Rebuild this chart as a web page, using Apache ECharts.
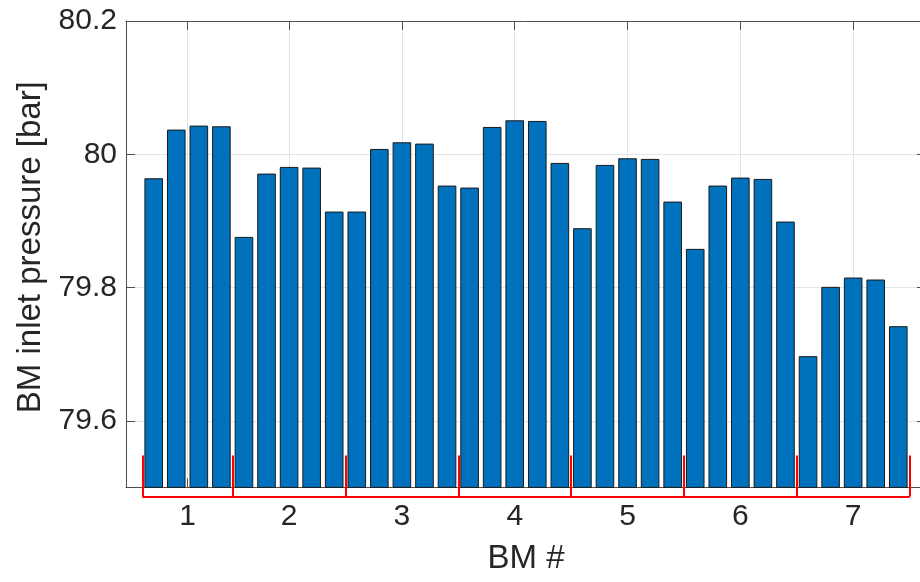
<!DOCTYPE html>
<html>
<head>
<meta charset="utf-8">
<script src="https://cdn.jsdelivr.net/npm/echarts@6/dist/echarts.min.js"></script>
<style>
html,body{margin:0;padding:0;background:#fff;}
#chart{width:920px;height:582px;}
</style>
</head>
<body>
<div id="chart"></div>
<script>
// ---- data ----
var groupLabels = ['1', '2', '3', '4', '5', '6', '7'];
var groupSizes = [4, 5, 5, 5, 5, 5, 5];
var pressures = [
  79.964, 80.037, 80.043, 80.042,
  79.876, 79.971, 79.981, 79.980, 79.914,
  79.914, 80.008, 80.018, 80.016, 79.953,
  79.950, 80.041, 80.051, 80.050, 79.987,
  79.889, 79.984, 79.994, 79.993, 79.929,
  79.858, 79.953, 79.965, 79.963, 79.899,
  79.697, 79.801, 79.815, 79.812, 79.742
];
var yTicks = [79.6, 79.8, 80, 80.2];
var yTitle = 'BM inlet pressure [bar]';
var xTitle = 'BM #';

// ---- derived ----
var barData = pressures.map(function (v, i) { return [i + 1, v]; });
var groupCenters = [];
var boundaries = [0.5];
var start = 1;
groupSizes.forEach(function (n) {
  groupCenters.push(start + (n - 1) / 2);
  start += n;
  boundaries.push(start - 0.5);
});
var nBars = pressures.length;
var xMin = (nBars + 1) / 2 - 17.728;
var xMax = (nBars + 1) / 2 + 17.728;

var bracketTop = 79.548, bracketBottom = 79.486;
var bracketLines = [];
boundaries.forEach(function (b) {
  bracketLines.push({ coords: [[b, bracketTop], [b, bracketBottom]] });
});
bracketLines.push({ coords: [[boundaries[0], bracketBottom], [boundaries[boundaries.length - 1], bracketBottom]] });

var FONT = '"Liberation Sans", Arial, Helvetica, sans-serif';
var TXT = '#262626';
var AX = '#4d4d4d';
var GRIDC = '#e3e3e3';

function xLabel(v) {
  for (var k = 0; k < groupCenters.length; k++) {
    if (Math.abs(groupCenters[k] - v) < 1e-6) return groupLabels[k];
  }
  return '';
}

var chart = echarts.init(document.getElementById('chart'), null, { renderer: 'canvas' });
chart.setOption({
  animation: false,
  backgroundColor: '#ffffff',
  grid: { left: 126, right: -6, top: 21, bottom: 94.6, containLabel: false, outerBoundsMode: 'none' },
  xAxis: [{
    type: 'value', min: xMin, max: xMax, position: 'bottom',
    name: xTitle, nameLocation: 'middle', nameGap: 55,
    nameTextStyle: { fontFamily: FONT, fontSize: 33, color: TXT },
    axisLine: { show: true, onZero: false, lineStyle: { color: AX, width: 1 } },
    axisTick: { show: true, inside: true, length: 9, customValues: groupCenters, lineStyle: { color: AX } },
    axisLabel: { show: true, customValues: groupCenters, formatter: xLabel, margin: 14,
      fontFamily: FONT, fontSize: 30, color: TXT },
    splitLine: { show: true, lineStyle: { color: GRIDC, width: 1 } }
  }, {
    type: 'value', min: xMin, max: xMax, position: 'top',
    axisLine: { show: true, onZero: false, lineStyle: { color: AX, width: 1 } },
    axisTick: { show: true, inside: true, length: 9, customValues: groupCenters, lineStyle: { color: AX } },
    axisLabel: { show: false },
    splitLine: { show: false }
  }],
  yAxis: [{
    type: 'value', min: 79.5, max: 80.2, position: 'left',
    name: yTitle, nameLocation: 'middle', nameRotate: 90, nameGap: 78,
    nameTextStyle: { fontFamily: FONT, fontSize: 33, color: TXT, padding: [0, 0, 0, 14] },
    axisLine: { show: true, onZero: false, lineStyle: { color: AX, width: 1 } },
    axisTick: { show: true, inside: true, length: 9, customValues: yTicks, lineStyle: { color: AX } },
    axisLabel: { show: true, customValues: yTicks, margin: 9, fontFamily: FONT, fontSize: 30, color: TXT,
      formatter: function (v) { return String(Math.round(v * 10) / 10); } },
    splitLine: { show: true, lineStyle: { color: GRIDC, width: 1 } }
  }, {
    type: 'value', min: 79.5, max: 80.2, position: 'right',
    axisLine: { show: true, onZero: false, lineStyle: { color: AX, width: 1 } },
    axisTick: { show: true, inside: true, length: 9, customValues: yTicks, lineStyle: { color: AX } },
    axisLabel: { show: false },
    splitLine: { show: false }
  }],
  series: [{
    type: 'bar',
    data: barData,
    barWidth: 18.6,
    clip: true,
    itemStyle: { color: '#0072BD', borderColor: '#1a1a1a', borderWidth: 1 },
    z: 2
  }, {
    type: 'lines',
    coordinateSystem: 'cartesian2d',
    data: bracketLines,
    clip: false,
    lineStyle: { color: '#ff0000', width: 2, opacity: 1 },
    silent: true,
    z: 5
  }]
});
</script>
</body>
</html>
